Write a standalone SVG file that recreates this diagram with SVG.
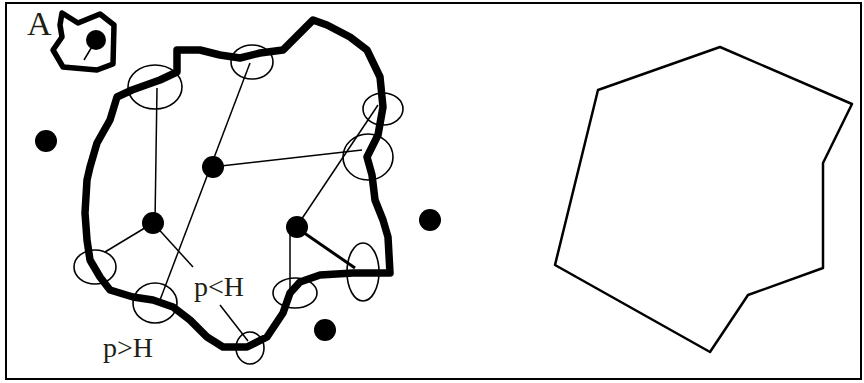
<svg xmlns="http://www.w3.org/2000/svg" width="864" height="383" viewBox="0 0 864 383">
<style>
.frame{fill:none;stroke:#000;stroke-width:2}
.blob{fill:none;stroke:#000;stroke-width:7.5;stroke-linejoin:round;stroke-linecap:round}
.ring{fill:none;stroke:#000;stroke-width:1.6}
.dot{fill:#000}
.ln{stroke:#000;stroke-width:1.5;fill:none}
.lnb{stroke:#000;stroke-width:3;fill:none}
.lbl{font-family:"Liberation Serif","Times New Roman",serif;fill:#1e1e14}
.poly{fill:none;stroke:#000;stroke-width:2.5;stroke-linejoin:round}
</style>
<rect class="frame" x="6" y="3" width="855" height="376"/>
<g id="label-A"><text class="lbl" x="27" y="35" font-size="34">A</text></g>
<g id="region-A">
<path class="blob" style="stroke-width:5.5" d="M62,13 L78,23 L100,14 L114,25 L113,64 L97,70 L63,67 L53,50 L62,37 L60,25 Z"/>
<circle class="dot" cx="96" cy="40" r="10"/>
<line class="ln" x1="96" y1="40" x2="84" y2="60"/>
</g>
<g id="region-main">
<path class="blob" d="M117,97 L132,90 L160,80 L177,72 L177,50 L200,50 L220,55 L240,58 L260,53 L283,50 L313,20 L327,25 L350,37 L367,50 L380,77 L383,107 L378,135 L367,157 L372,175 L375,200 L383,220 L388,237 L390,273 L353,273 L320,275 L300,282 L290,293 L283,313 L267,337 L247,347 L223,347 L207,337 L190,320 L173,307 L153,300 L133,297 L110,290 L100,277 L90,260 L87,240 L85,213 L87,180 L90,167 L97,143 L110,120 Z"/>
</g>
<g id="rings">
<ellipse id="ring1" class="ring" cx="155" cy="87" rx="27" ry="22"/>
<ellipse id="ring2" class="ring" cx="252" cy="62" rx="21" ry="17"/>
<ellipse id="ring3" class="ring" cx="383" cy="109" rx="20" ry="16"/>
<ellipse id="ring4" class="ring" cx="368" cy="157" rx="25" ry="23"/>
<ellipse id="ring5" class="ring" cx="363" cy="272" rx="16" ry="29"/>
<ellipse id="ring6" class="ring" cx="295" cy="293" rx="22" ry="15"/>
<ellipse id="ring7" class="ring" cx="250" cy="348" rx="14" ry="16"/>
<ellipse id="ring8" class="ring" cx="155" cy="303" rx="22" ry="20"/>
<ellipse id="ring9" class="ring" cx="95" cy="267" rx="21" ry="17"/>
</g>
<g id="connectors">
<line class="ln" x1="157" y1="88" x2="155" y2="222"/>
<line class="ln" x1="153" y1="223" x2="105" y2="252"/>
<line class="ln" x1="153" y1="223" x2="193" y2="267"/>
<line class="ln" x1="250" y1="63" x2="160" y2="300"/>
<line class="ln" x1="212" y1="167" x2="362" y2="150"/>
<line class="ln" x1="378" y1="105" x2="297" y2="226"/>
<line class="ln" x1="290" y1="227" x2="290" y2="290"/>
<line class="lnb" x1="297" y1="228" x2="355" y2="268"/>
<line class="ln" x1="220" y1="305" x2="248" y2="341"/>
</g>
<g id="dot1"><circle class="dot" cx="46" cy="141" r="11"/></g>
<g id="dot2"><circle class="dot" cx="213" cy="167" r="11"/></g>
<g id="dot3"><circle class="dot" cx="153" cy="223" r="11"/></g>
<g id="dot4"><circle class="dot" cx="297" cy="227" r="11"/></g>
<g id="dot5"><circle class="dot" cx="430" cy="220" r="11"/></g>
<g id="dot6"><circle class="dot" cx="325" cy="330" r="11"/></g>
<g id="label-pltH"><text class="lbl" x="194" y="296" font-size="28">p&lt;H</text></g>
<g id="label-pgtH"><text class="lbl" x="103" y="357" font-size="28">p&gt;H</text></g>
<g id="hull">
<polygon class="poly" points="598,90 720,47 852,104 823,163 823,268 748,295 710,352 555,265"/>
</g>
</svg>
